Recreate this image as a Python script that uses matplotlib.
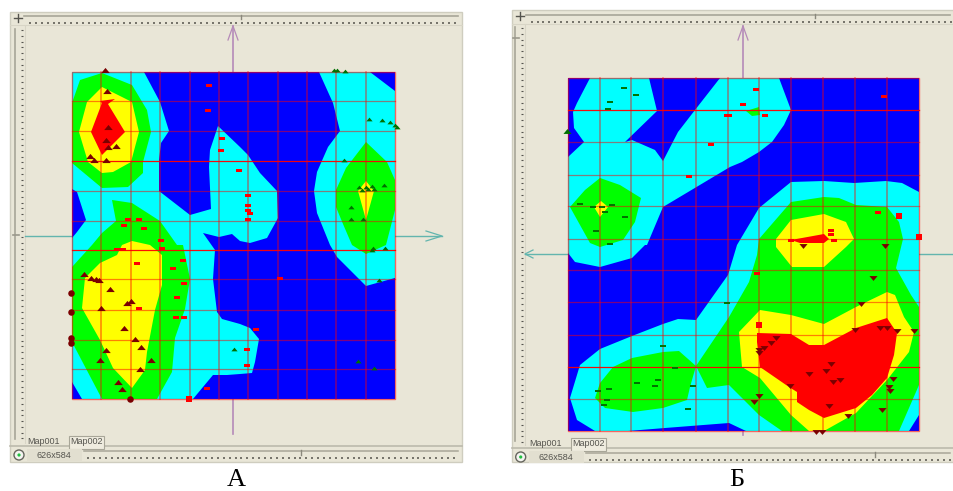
import numpy as np
import matplotlib
matplotlib.use('Agg')
import matplotlib.pyplot as plt
from matplotlib.patches import Polygon, Rectangle, Circle

BLUE = '#0000ff'
CYAN = '#00ffff'
GREEN = '#00ff00'
YELLOW = '#ffff00'
RED = '#ff0000'
WINDOW = '#e9e6d7'
DARK_RED = '#7a0000'
DARK_GREEN = '#007000'

# flat triangles, as the scanned markers look
TRI_UP = [(-1, -0.6), (1, -0.6), (0, 0.6)]
TRI_DOWN = [(-1, 0.6), (1, 0.6), (0, -0.6)]

a_box = (72, 71.5, 395.3, 398.7)
a_grid_x = [101.5, 131, 160, 190, 219, 248.5, 278, 306.7, 336.5, 366]
a_grid_y = [101, 131, 161, 191, 221, 249.5, 279, 309.5, 339.5, 369]
a_strong_y = [161, 249.5]
a_cyan = [
    [(72, 72), (144, 72), (160, 102), (169, 131), (161, 143), (159, 160), (159, 191),
     (190, 215), (211, 209), (209, 167), (210, 150), (218, 126), (240, 147), (248, 155),
     (260, 173), (277, 191), (278, 218), (267, 238), (250, 243), (240, 241), (232, 234),
     (219, 237), (203, 233), (215, 250), (213, 279), (217, 312), (222, 319), (240, 324),
     (250, 328), (259, 339), (255, 362), (252, 373), (240, 374), (227, 375), (213, 375),
     (193, 399), (82, 399), (72, 382), (72, 238), (77, 232), (86, 220), (77, 192), (72, 189)],
    [(319, 72), (333, 103), (340, 131), (328, 147), (317, 172), (314, 191), (317, 213),
     (330, 245), (337, 257), (366, 286), (395, 278), (395, 91), (370, 72)],
]
a_green = [
    [(80, 80), (102, 73), (132, 85), (147, 110), (151, 132), (143, 162), (143, 173),
     (128, 187), (102, 188), (72, 163), (72, 103)],
    [(112, 200), (132, 203), (160, 221), (177, 245), (183, 245), (190, 279), (185, 309),
     (175, 338), (172, 372), (157, 399), (102, 399), (72, 342), (72, 267), (92, 245),
     (102, 233), (116, 221)],
    [(366, 142), (387, 162), (395, 180), (395, 210), (386, 245), (366, 254), (352, 245),
     (343, 224), (336, 207), (336, 190), (346, 168)],
]
a_yellow = [
    [(102, 87), (132, 102), (139, 132), (131, 162), (113, 172), (102, 173), (88, 162),
     (79, 132), (87, 102)],
    [(100, 263), (117, 255), (122, 245), (132, 241), (150, 245), (162, 255), (162, 285),
     (155, 310), (147, 352), (145, 370), (132, 388), (113, 368), (100, 340), (82, 308),
     (85, 278)],
    [(366, 181), (374, 191), (366, 220), (358, 191)],
]
a_red = [
    [(100, 101), (115, 99), (108, 104), (125, 132), (102, 155), (91, 132), (102, 103)],
]
a_tri_x = [105, 107, 108, 106, 108, 116, 90, 94, 106, 84, 91, 96, 99, 110, 127, 131, 101,
           124, 135, 141, 106, 100, 151, 140, 118, 122]
a_tri_y = [70, 91, 127, 140, 147, 146, 156, 160, 160, 274, 278, 279, 280, 289, 303, 301,
           308, 328, 339, 347, 350, 360, 360, 369, 382, 389]
a_blob_x = [71.5, 71.5, 71.5, 71.5, 130.5]
a_blob_y = [293, 312, 338, 343, 399]
a_dash_x = [209, 208, 222, 221, 239, 128, 139, 124, 144, 161, 248.5, 248.5, 248.5, 250,
            248.5, 117, 123, 162, 137, 183, 173, 184, 177, 139, 176, 184, 207, 280, 256,
            247, 247]
a_dash_y = [85, 110, 138, 150, 170, 219, 219, 225, 228, 240, 195, 205, 210, 213, 219, 249,
            249, 248, 263, 260, 268, 283, 297, 308, 317, 317, 388, 278, 329, 349, 365]
a_square_x = [189.5]
a_square_y = [399]
a_gtri_x = [334, 337, 345, 369, 382, 390, 395, 397, 344, 359, 362, 366, 368, 372, 374, 384,
            351, 351, 363, 372, 373, 385, 379, 358, 374, 234]
a_gtri_y = [70, 70, 71, 119, 120, 122, 125, 127, 160, 187, 190, 187, 189, 186, 189, 185,
            207, 219, 219, 250, 248, 248, 280, 361, 368, 349]

# ---- map B
b_box = (567.7, 77.7, 919, 430.7)
b_grid_x = [600, 631, 663, 695.7, 727.7, 759.3, 791, 823.3, 855.3, 887]
b_grid_y = [110, 142, 175, 206, 239, 270, 302.3, 334.7, 367, 399]
b_strong_y = [110, 367]
b_cyan = [
    [(590, 78), (577, 103), (573, 112), (574, 128), (584, 142), (568, 157), (568, 253),
     (575, 262), (600, 267), (632, 258), (645, 245), (647, 245), (663, 207), (730, 167),
     (742, 162), (759, 152), (772, 142), (784, 125), (791, 110), (779, 78), (720, 78),
     (695, 110), (678, 132), (663, 161), (655, 150), (632, 140), (625, 142), (657, 111),
     (649, 78)],
    [(570, 398), (580, 365), (600, 349), (632, 336), (663, 324), (678, 319), (696, 320),
     (728, 275), (737, 245), (759, 208), (791, 182), (824, 181), (854, 183), (886, 181),
     (902, 183), (919, 192), (919, 415), (909, 431), (746, 431), (729, 423), (665, 428),
     (628, 431), (595, 431), (577, 420)],
]
b_green = [
    [(600, 178), (620, 185), (641, 198), (635, 222), (623, 240), (600, 247), (590, 243),
     (570, 207), (585, 190)],
    [(595, 398), (600, 383), (613, 367), (632, 358), (663, 352), (679, 351), (696, 366),
     (690, 387), (687, 400), (663, 408), (633, 412), (605, 408)],
    [(696, 366), (729, 317), (749, 282), (757, 255), (759, 239), (791, 202), (824, 197),
     (839, 198), (856, 205), (887, 207), (899, 222), (903, 239), (896, 268), (911, 295),
     (919, 307), (919, 385), (899, 431), (782, 431), (759, 415), (729, 385), (707, 388)],
    [(746, 111), (759, 107), (760, 115), (752, 116)],
]
b_yellow = [
    [(601, 201), (608, 207), (600, 217), (594, 207)],
    [(776, 239), (791, 220), (824, 214), (846, 222), (854, 239), (846, 247), (824, 267),
     (792, 267), (776, 247)],
    [(760, 310), (791, 315), (824, 324), (856, 307), (887, 292), (895, 295), (904, 317),
     (914, 332), (909, 352), (887, 380), (856, 413), (824, 431), (809, 431), (791, 415),
     (760, 378), (742, 367), (739, 332)],
]
b_red = [
    [(791, 240), (824, 234), (829, 239), (824, 243), (800, 243)],
    [(757, 333), (791, 334), (809, 345), (824, 345), (856, 328), (887, 318), (897, 333),
     (894, 355), (887, 378), (872, 395), (856, 408), (824, 418), (809, 410), (797, 402),
     (797, 392), (789, 387), (760, 367), (757, 342)],
]
b_gdash_x = [624, 636, 610, 608, 580, 593, 602, 612, 605, 625, 596, 610, 663, 675, 637, 658,
             655, 693, 727, 598, 609, 607, 604, 688]
b_gdash_y = [88, 95, 102, 109, 204, 207, 207, 205, 212, 217, 231, 244, 346, 368, 383, 380,
             386, 386, 303, 391, 389, 400, 405, 409]
b_gtri_x = [567]
b_gtri_y = [131]
b_rtri_x = [873, 861, 855, 880, 887, 897, 914, 776, 771, 764, 759, 759, 831, 826, 809, 790,
            833, 840, 893, 889, 890, 759, 754, 829, 848, 882, 816, 822, 803, 885]
b_rtri_y = [278, 304, 330, 328, 328, 331, 331, 338, 343, 348, 350, 353, 364, 371, 374, 386,
            382, 380, 379, 387, 391, 396, 402, 406, 416, 410, 432, 432, 246, 246]
b_dash_x = [689, 711, 727, 756, 743, 729, 765, 884, 878, 831, 831, 791, 834, 757]
b_dash_y = [176, 144, 115, 89, 104, 115, 115, 96, 212, 230, 234, 240, 240, 273]
b_square_x = [899.5, 919, 759.5]
b_square_y = [216, 237, 325]

tab_labels = ['Map001', 'Map002']
size_label = '626x584'


def fill(ax, polys, color, z):
    for p in polys:
        ax.add_patch(Polygon(p, closed=True, fc=color, ec='none', zorder=z))


def draw_map(ax, box, grid_x, grid_y, strong_y, cyan, green, yellow, red):
    x0, y0, x1, y1 = box
    ax.add_patch(Rectangle((x0, y0), x1 - x0, y1 - y0, fc=BLUE, ec='none', zorder=3))
    fill(ax, cyan, CYAN, 4)
    fill(ax, green, GREEN, 5)
    fill(ax, yellow, YELLOW, 6)
    fill(ax, red, RED, 7)
    # grid lines are half transparent red, so they change colour on each band
    for x in grid_x:
        ax.plot([x, x], [y0, y1], color=RED, alpha=0.5, lw=1.1, zorder=8)
    for y in grid_y:
        strong = y in strong_y
        ax.plot([x0, x1], [y, y], color=RED, alpha=0.95 if strong else 0.5, lw=0.9, zorder=8)
    ax.add_patch(Rectangle((x0, y0), x1 - x0, y1 - y0, fc='none', ec=RED, alpha=0.55, lw=1.0, zorder=8))


def draw_window(ax, left, right, top, ruler_y, ruler_x, tab_y, status_y, slider_x, vslider_y):
    bottom = 461.7
    ax.add_patch(Rectangle((left, top), right - left, bottom - top, fc=WINDOW, ec='#cfcdbf', lw=1, zorder=1))
    # top ruler
    ax.plot([left + 14, right - 4], [ruler_y, ruler_y], color='#a8a698', lw=1.2, zorder=2)
    ax.plot([left, right], [ruler_y + 9, ruler_y + 9], color='#d8d5c6', lw=0.8, zorder=2)
    xs = np.arange(left + 20, right - 3, 5.9)
    ax.scatter(xs, np.full(len(xs), ruler_y + 7), s=2.5, c='#77756c', marker='s', lw=0, zorder=2)
    ax.plot([slider_x, slider_x], [ruler_y - 1, ruler_y + 3], color='#8a887c', lw=1, zorder=2)
    # left ruler
    ax.plot([ruler_x - 7, ruler_x - 7], [top + 17, tab_y - 2], color='#a8a698', lw=1.2, zorder=2)
    ax.plot([ruler_x + 3, ruler_x + 3], [top + 14, status_y - 8], color='#d8d5c6', lw=0.8, zorder=2)
    ys = np.arange(top + 18, status_y - 10, 5.75)
    ax.scatter(np.full(len(ys), ruler_x), ys, s=3.5, c='#55544e', marker='_', lw=0.8, zorder=2)
    ax.plot([ruler_x - 9, ruler_x - 3], [vslider_y, vslider_y], color='#9a988c', lw=1.2, zorder=2)
    # corner glyph
    cx, cy = left + 8, top + 6
    ax.plot([cx - 4, cx + 4], [cy, cy], color='#55544e', lw=1, zorder=2)
    ax.plot([cx, cx], [cy - 4, cy + 4], color='#55544e', lw=1, zorder=2)
    # status bar
    ax.plot([left, right], [status_y - 5, status_y - 5], color='#bcbaac', lw=1.2, zorder=2)
    ax.plot([left + 74, right - 4], [status_y, status_y], color='#a8a698', lw=1.1, zorder=2)
    xs = np.arange(left + 78, right - 3, 5.9)
    ax.scatter(xs, np.full(len(xs), status_y + 7), s=2, c='#77756c', marker='s', lw=0, zorder=2)
    ax.plot([slider_x + 60, slider_x + 60], [status_y - 1, status_y + 4], color='#8a887c', lw=1, zorder=2)
    # tabs
    ax.add_patch(Rectangle((left + 59, tab_y - 5), 35, 13, fc='#efecdf', ec='#a8a698', lw=0.8, zorder=2))
    ax.text(left + 34, tab_y, tab_labels[0], fontsize=6.5, color='#55544e', ha='center', va='center', family='Liberation Sans', zorder=3)
    ax.text(left + 77, tab_y + 1, tab_labels[1], fontsize=6.5, color='#55544e', ha='center', va='center', family='Liberation Sans', zorder=3)
    # size box and round icon
    ax.add_patch(Rectangle((left + 17, status_y - 2), 55, 12, fc='#e2dfd0', ec='none', zorder=2))
    ax.text(left + 44, status_y + 4, size_label, fontsize=6.5, color='#55544e', ha='center', va='center', family='Liberation Sans', zorder=3)
    ax.add_patch(Circle((left + 9, status_y + 4), 5, fc='#f4f4f0', ec='#66665e', lw=1, zorder=3))
    ax.add_patch(Circle((left + 9, status_y + 4), 1.6, fc='#20c040', ec='none', zorder=4))


def draw_arrows(ax, vx, vy0, vy1, hy, hx0, hx1, right_head):
    vcol = '#b58ab8'
    hcol = '#63b5ae'
    ax.plot([vx, vx], [vy0, vy1], color=vcol, lw=1.2, zorder=2)
    ax.plot([vx - 5, vx, vx + 5], [vy0 + 14, vy0, vy0 + 14], color=vcol, lw=0.9, zorder=2)
    ax.plot([hx0, hx1], [hy, hy], color=hcol, lw=1.0, zorder=2)
    if right_head:
        ax.plot([hx1 - 16, hx1, hx1 - 16], [hy - 5, hy, hy + 5], color=hcol, lw=0.9, zorder=2)
    else:
        ax.plot([hx0 + 8, hx0, hx0 + 8], [hy - 4, hy, hy + 4], color=hcol, lw=0.9, zorder=2)


def draw_points(ax, x, y, color, marker, s, z=9):
    ax.scatter(x, y, s=s, c=color, marker=marker, lw=0, zorder=z)


def draw_dashes(ax, x, y):
    for px, py in zip(x, y):
        ax.add_patch(Rectangle((px - 3, py - 1.5), 6, 3, fc=RED, ec='none', zorder=9))


fig = plt.figure(figsize=(9.54, 4.91), dpi=100, facecolor='white')
ax = fig.add_axes([0, 0, 1, 1])
ax.set_xlim(0, 954)
ax.set_ylim(491, 0)
ax.axis('off')

# left window
draw_window(ax, 10, 462, 12, 15.5, 22, 441, 451, 241, 235)
draw_arrows(ax, 233, 26, 434, 236, 25, 442, True)
draw_map(ax, a_box, a_grid_x, a_grid_y, a_strong_y, a_cyan, a_green, a_yellow, a_red)
draw_points(ax, a_tri_x, a_tri_y, DARK_RED, TRI_UP, 38)
draw_points(ax, a_blob_x, a_blob_y, DARK_RED, 'o', 22)
draw_points(ax, a_gtri_x, a_gtri_y, DARK_GREEN, TRI_UP, 20)
draw_dashes(ax, a_dash_x, a_dash_y)
draw_points(ax, a_square_x, a_square_y, RED, 's', 14)

# right window
draw_window(ax, 511.7, 954, 10, 15, 522, 443, 453, 815, 38)
draw_arrows(ax, 743, 26, 435, 254, 525, 954, False)
draw_map(ax, b_box, b_grid_x, b_grid_y, b_strong_y, b_cyan, b_green, b_yellow, b_red)
ax.scatter(b_gdash_x, b_gdash_y, s=16, c=DARK_GREEN, marker='_', lw=1.4, zorder=9)
draw_points(ax, b_gtri_x, b_gtri_y, DARK_GREEN, TRI_UP, 34)
draw_points(ax, b_rtri_x, b_rtri_y, DARK_RED, TRI_DOWN, 34)
draw_dashes(ax, b_dash_x, b_dash_y)
draw_points(ax, b_square_x, b_square_y, RED, 's', 13)

# captions
ax.text(236, 491, 'А', fontsize=19, family='Liberation Serif', ha='center', va='bottom', color='black')
ax.text(737, 491, 'Б', fontsize=19, family='Liberation Serif', ha='center', va='bottom', color='black')

fig.savefig('out.png', dpi=100)
